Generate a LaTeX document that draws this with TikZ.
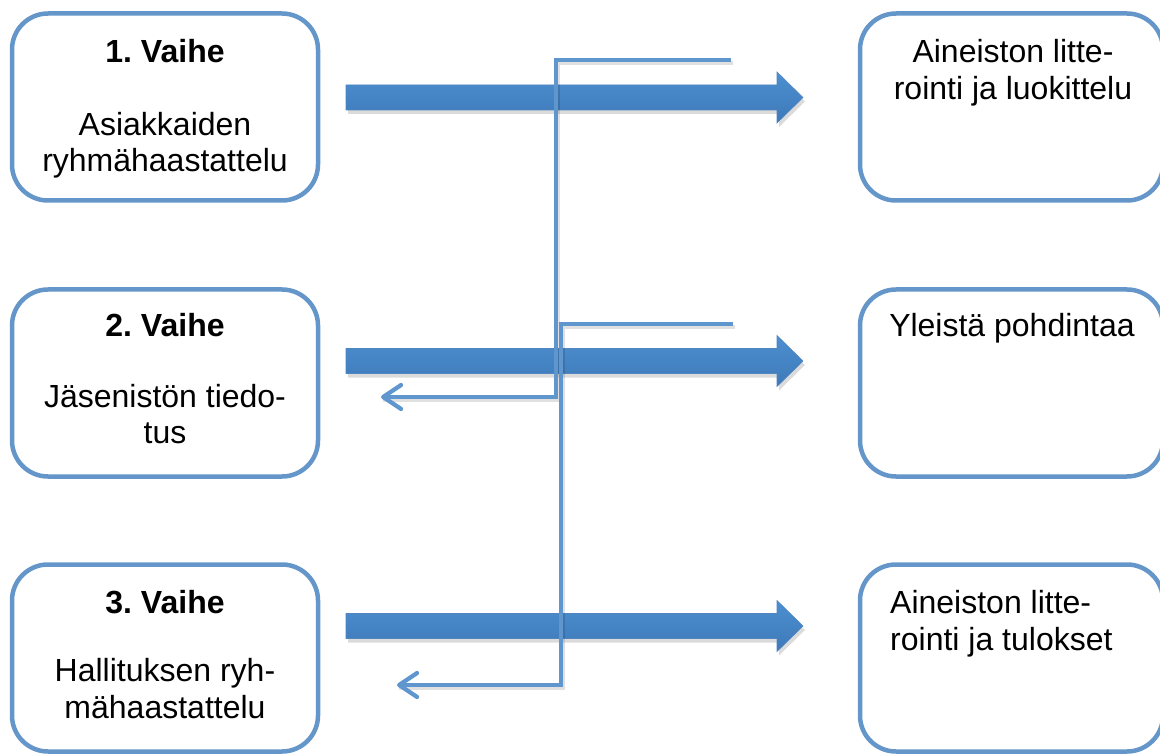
\documentclass[tikz,border=0pt]{standalone}
\usepackage{fontspec}
\setmainfont{Liberation Sans}
\usetikzlibrary{arrows.meta,calc}
\definecolor{boxblue}{RGB}{100,150,202}
\definecolor{lineblue}{RGB}{96,150,206}
\definecolor{arrtop}{RGB}{76,143,208}
\definecolor{arrbot}{RGB}{62,121,185}
\frenchspacing
\newcommand\fatarrow[3]{%
  \path[#1] ($(#2)+(0,-12.5)$) -- ($(#3)+(-26,-12.5)$) -- ($(#3)+(-26,-25.5)$)
    -- (#3) -- ($(#3)+(-26,25.5)$) -- ($(#3)+(-26,12.5)$) -- ($(#2)+(0,12.5)$) -- cycle;}
\begin{document}
\begin{tikzpicture}[x=1pt,y=-1pt,
  stagebox/.style={draw=boxblue, line width=4.5pt, rounded corners=36pt, fill=white,
    minimum width=306pt, minimum height=187pt, inner sep=0pt},
  resultbox/.style={stagebox, minimum width=303pt},
  txt/.style={anchor=base, inner sep=0pt, font=\fontsize{32}{37}\selectfont},
  ttl/.style={txt, font=\fontsize{32}{37}\selectfont\bfseries},
  txtl/.style={txt, anchor=base west},
  arrowbody/.style={top color=arrtop, bottom color=arrbot, draw=arrbot!90, line width=0.6pt},
  arrowshadow/.style={fill=black, opacity=0.14, transform canvas={shift={(2,4)}}},
  thin/.style={draw=lineblue, line width=4.2pt},
  thinshadow/.style={draw=black, opacity=0.12, line width=4.2pt, transform canvas={shift={(1.5,3)}}},
  barb/.style={-{Straight Barb[length=18pt,width=24pt,round]}}
]
\clip (0,0) rectangle (1160,754);
\useasboundingbox (0,0) rectangle (1160,754);

% stage boxes
\node[stagebox] (s1) at (165,107) {};
\node[stagebox] (s2) at (165,383) {};
\node[stagebox] (s3) at (165,658) {};
% result boxes
\node[resultbox] (r1) at (1011.5,107) {};
\node[resultbox] (r2) at (1011.5,383) {};
\node[resultbox] (r3) at (1011.5,658) {};

% texts
\node[ttl] (s1t) at (165,63) {1. Vaihe};
\node[txt] (s1a) at (165,136) {Asiakkaiden};
\node[txt] (s1b) at (165,172) {ryhmähaastattelu};
\node[ttl] (s2t) at (165,337) {2. Vaihe};
\node[txt] (s2a) at (165,407) {Jäsenistön tiedo-};
\node[txt] (s2b) at (165,443) {tus};
\node[ttl] (s3t) at (165,613) {3. Vaihe};
\node[txt] (s3a) at (165,681) {Hallituksen ryh-};
\node[txt] (s3b) at (165,718) {mähaastattelu};
\node[txt] (r1a) at (1013,63) {Aineiston litte-};
\node[txt] (r1b) at (1013,100) {rointi ja luokittelu};
\node[txt] (r2a) at (1012,337) {Yleistä pohdintaa};
\node[txtl] (r3a) at (890,613) {Aineiston litte-};
\node[txtl] (r3b) at (890,650) {rointi ja tulokset};

% thick arrows
\coordinate (f1s) at (346,97.5);  \coordinate (f1e) at (803,97.5);
\coordinate (f2s) at (346,361);   \coordinate (f2e) at (803,361);
\coordinate (f3s) at (346,626);   \coordinate (f3e) at (803,626);
\fatarrow{arrowshadow}{f1s}{f1e}
\fatarrow{arrowshadow}{f2s}{f2e}
\fatarrow{arrowshadow}{f3s}{f3e}
\fatarrow{arrowbody}{f1s}{f1e}
\fatarrow{arrowbody}{f2s}{f2e}
\fatarrow{arrowbody}{f3s}{f3e}

% thin feedback connectors
\coordinate (ca0) at (731,60);
\coordinate (ca1) at (556,60);
\coordinate (ca2) at (556,397);
\coordinate (ca3) at (381,397);
\coordinate (cb0) at (733,324);
\coordinate (cb1) at (561,324);
\coordinate (cb2) at (561,685);
\coordinate (cb3) at (397,685);
\draw[thinshadow] (ca0) -- (ca1) -- (ca2) -- (ca3);
\draw[thinshadow] (cb0) -- (cb1) -- (cb2) -- (cb3);
\draw[thin, barb] (ca0) -- (ca1) -- (ca2) -- (ca3);
\draw[thin, barb] (cb0) -- (cb1) -- (cb2) -- (cb3);
\end{tikzpicture}
\end{document}
